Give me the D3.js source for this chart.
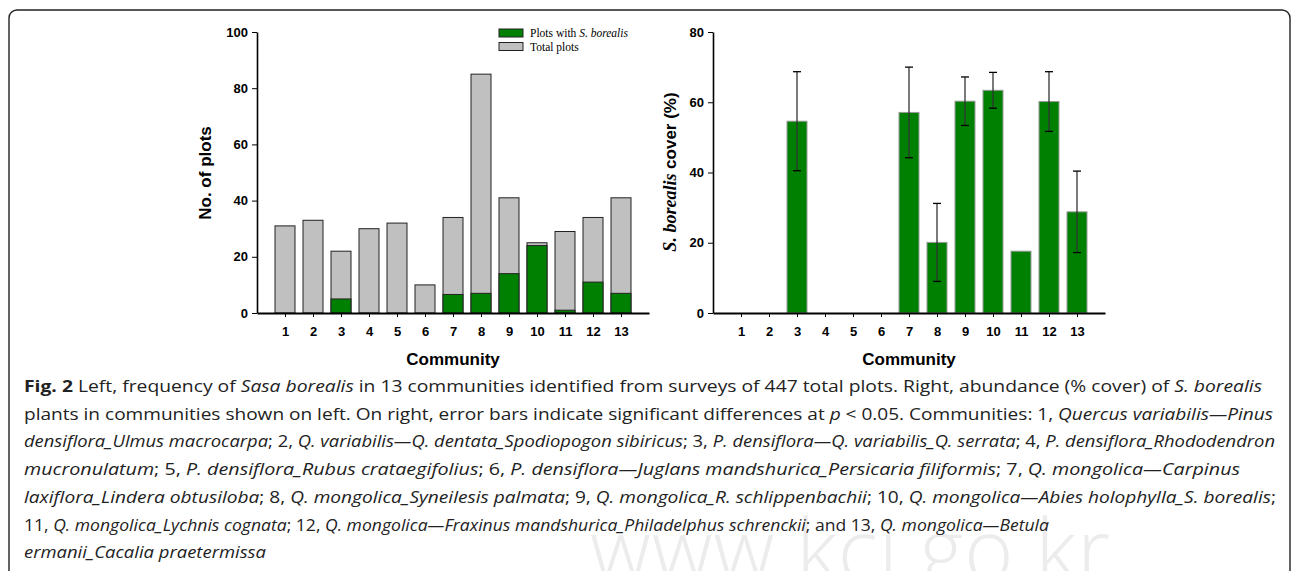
<!DOCTYPE html>
<html lang="en">
<head>
<meta charset="utf-8">
<title>Sasa borealis communities</title>
<script src="https://cdn.jsdelivr.net/npm/d3@7"></script>
<style>
  html, body { margin: 0; padding: 0; background: #fff; }
  svg { display: block; }
  .axis text { font-family: "Liberation Sans", Arial, sans-serif; font-weight: bold; font-size: 13px; fill: #000; }
  .axis path, .axis line { stroke: #000; }
  .title { font-family: "Liberation Sans", Arial, sans-serif; font-weight: bold; font-size: 17px; }
  .legend { font-family: "Liberation Serif", "Times New Roman", serif; font-size: 11.5px; }
  .caption { font-family: "Open Sans", sans-serif; fill: #222; }
</style>
</head>
<body>
<svg id="fig" width="1292" height="571"></svg>
<script>
// data
var communities = [1, 2, 3, 4, 5, 6, 7, 8, 9, 10, 11, 12, 13];
var totalPlots  = [31, 33, 22, 30, 32, 10, 34, 85, 41, 25, 29, 34, 41];
var plotsWithSB = [0, 0, 5, 0, 0, 0, 6.6, 7, 14, 24, 1, 11, 7];
var coverMean   = [0, 0, 54.6, 0, 0, 0, 57.1, 20.1, 60.3, 63.4, 17.6, 60.2, 28.8];
var coverErr    = [0, 0, 14.1, 0, 0, 0, 12.9, 11.1, 6.9, 5.1, 0, 8.5, 11.6];
var leftTicks   = [0, 20, 40, 60, 80, 100];
var rightTicks  = [0, 20, 40, 60, 80];

var captionLines = [
  [["b", "Fig. 2"], ["", " Left, frequency of "], ["i", "Sasa borealis"], ["", " in 13 communities identified from surveys of 447 total plots. Right, abundance (% cover) of "], ["i", "S. borealis"]],
  [["", "plants in communities shown on left. On right, error bars indicate significant differences at "], ["i", "p"], ["", " < 0.05. Communities: 1, "], ["i", "Quercus variabilis\u2014Pinus"]],
  [["i", "densiflora_Ulmus macrocarpa"], ["", "; 2, "], ["i", "Q. variabilis\u2014Q. dentata_Spodiopogon sibiricus"], ["", "; 3, "], ["i", "P. densiflora\u2014Q. variabilis_Q. serrata"], ["", "; 4, "], ["i", "P. densiflora_Rhododendron"]],
  [["i", "mucronulatum"], ["", "; 5, "], ["i", "P. densiflora_Rubus crataegifolius"], ["", "; 6, "], ["i", "P. densiflora\u2014Juglans mandshurica_Persicaria filiformis"], ["", "; 7, "], ["i", "Q. mongolica\u2014Carpinus"]],
  [["i", "laxiflora_Lindera obtusiloba"], ["", "; 8, "], ["i", "Q. mongolica_Syneilesis palmata"], ["", "; 9, "], ["i", "Q. mongolica_R. schlippenbachii"], ["", "; 10, "], ["i", "Q. mongolica\u2014Abies holophylla_S. borealis"], ["", ";"]],
  [["", "11, "], ["i", "Q. mongolica_Lychnis cognata"], ["", "; 12, "], ["i", "Q. mongolica\u2014Fraxinus mandshurica_Philadelphus schrenckii"], ["", "; and 13, "], ["i", "Q. mongolica\u2014Betula"]],
  [["i", "ermanii_Cacalia praetermissa"]]
];
// right edge of each caption line in the original layout
var captionEnds = [1262, 1273, 1275, 1240, 1276, 1049, 266];

var svg = d3.select("#fig");

var GREY = "#c0c0c0", GREEN = "#008000";

// frame
svg.append("rect")
  .attr("x", 9).attr("y", 10)
  .attr("width", 1281).attr("height", 640)
  .attr("rx", 8)
  .attr("fill", "none")
  .attr("stroke", "#222")
  .attr("stroke-width", 1.4);

// watermark
svg.append("text")
  .attr("x", 590).attr("y", 580)
  .style("font-family", "'Open Sans', sans-serif")
  .style("font-weight", 300)
  .style("font-size", "84px")
  .style("letter-spacing", "1px")
  .attr("fill", "#ececec")
  .text("www.kci.go.kr");

// ---------- left chart ----------
var xL = d3.scaleLinear().domain([0, 14]).range([257, 649]);
var yL = d3.scaleLinear().domain([0, 100]).range([313, 32]);
var bw = 20;

var left = svg.append("g");

left.selectAll(".tot")
  .data(communities)
  .enter().append("rect")
  .attr("x", function(d) { return xL(d) - bw / 2; })
  .attr("y", function(d, i) { return yL(totalPlots[i]); })
  .attr("width", bw)
  .attr("height", function(d, i) { return yL(0) - yL(totalPlots[i]); })
  .attr("fill", GREY)
  .attr("stroke", "#222")
  .attr("stroke-width", 1);

left.selectAll(".sb")
  .data(communities.filter(function(d, i) { return plotsWithSB[i] > 0; }))
  .enter().append("rect")
  .attr("x", function(d) { return xL(d) - bw / 2; })
  .attr("y", function(d) { return yL(plotsWithSB[d - 1]); })
  .attr("width", bw)
  .attr("height", function(d) { return yL(0) - yL(plotsWithSB[d - 1]); })
  .attr("fill", GREEN)
  .attr("stroke", "#222")
  .attr("stroke-width", 1);

var axL = left.append("g").attr("class", "axis")
  .attr("transform", "translate(257,0)")
  .call(d3.axisLeft(yL).tickValues(leftTicks).tickSize(5).tickSizeOuter(0).tickPadding(4));
axL.select(".domain").attr("stroke-width", 1.6);

var axLx = left.append("g").attr("class", "axis")
  .attr("transform", "translate(0,313)")
  .call(d3.axisBottom(xL).tickValues(communities).tickSize(4).tickSizeOuter(0).tickPadding(10));
axLx.select(".domain").attr("stroke-width", 2);

left.append("text").attr("class", "title")
  .attr("x", 453).attr("y", 365)
  .attr("text-anchor", "middle")
  .text("Community");

left.append("text").attr("class", "title")
  .attr("transform", "translate(211,173) rotate(-90)")
  .attr("text-anchor", "middle")
  .text("No. of plots");

// legend
var legendItems = [
  { fill: GREEN, parts: [["", "Plots with "], ["i", "S. borealis"]] },
  { fill: GREY, parts: [["", "Total plots"]] }
];
var lg = left.selectAll(".lg")
  .data(legendItems)
  .enter().append("g")
  .attr("transform", function(d, i) { return "translate(499," + (29 + i * 13.5) + ")"; });
lg.append("rect")
  .attr("width", 24).attr("height", 8)
  .attr("fill", function(d) { return d.fill; })
  .attr("stroke", "#222").attr("stroke-width", 1);
lg.append("text").attr("class", "legend")
  .attr("x", 31).attr("y", 8)
  .each(function(d) {
    var t = d3.select(this);
    d.parts.forEach(function(p) {
      t.append("tspan").style("font-style", p[0] === "i" ? "italic" : "normal").text(p[1]);
    });
  });

// ---------- right chart ----------
var xR = d3.scaleLinear().domain([0, 14]).range([713, 1105]);
var yR = d3.scaleLinear().domain([0, 80]).range([313, 32]);

var right = svg.append("g");
var withCover = communities.filter(function(d, i) { return coverMean[i] > 0; });

right.selectAll(".cov")
  .data(withCover)
  .enter().append("rect")
  .attr("x", function(d) { return xR(d) - bw / 2; })
  .attr("y", function(d) { return yR(coverMean[d - 1]); })
  .attr("width", bw)
  .attr("height", function(d) { return yR(0) - yR(coverMean[d - 1]); })
  .attr("fill", GREEN)
  .attr("stroke", "#9a9a9a")
  .attr("stroke-width", 1);

var withErr = withCover.filter(function(d) { return coverErr[d - 1] > 0; });
var eb = right.selectAll(".err").data(withErr).enter().append("g");
eb.append("line")
  .attr("x1", function(d) { return xR(d); })
  .attr("x2", function(d) { return xR(d); })
  .attr("y1", function(d) { return yR(coverMean[d - 1] + coverErr[d - 1]); })
  .attr("y2", function(d) { return yR(coverMean[d - 1] - coverErr[d - 1]); })
  .attr("stroke", "#333").attr("stroke-width", 1.3);
[1, -1].forEach(function(s) {
  eb.append("line")
    .attr("x1", function(d) { return xR(d) - 4; })
    .attr("x2", function(d) { return xR(d) + 4; })
    .attr("y1", function(d) { return yR(coverMean[d - 1] + s * coverErr[d - 1]); })
    .attr("y2", function(d) { return yR(coverMean[d - 1] + s * coverErr[d - 1]); })
    .attr("stroke", "#000").attr("stroke-width", 1.3);
});

var axR = right.append("g").attr("class", "axis")
  .attr("transform", "translate(713,0)")
  .call(d3.axisLeft(yR).tickValues(rightTicks).tickSize(5).tickSizeOuter(0).tickPadding(4));
axR.select(".domain").attr("stroke-width", 1.6);

var axRx = right.append("g").attr("class", "axis")
  .attr("transform", "translate(0,313)")
  .call(d3.axisBottom(xR).tickValues(communities).tickSize(4).tickSizeOuter(0).tickPadding(10));
axRx.select(".domain").attr("stroke-width", 2);

right.append("text").attr("class", "title")
  .attr("x", 909).attr("y", 365)
  .attr("text-anchor", "middle")
  .text("Community");

var yt = right.append("text").attr("class", "title")
  .attr("transform", "translate(676,172) rotate(-90)")
  .attr("text-anchor", "middle");
yt.append("tspan")
  .style("font-family", "'Liberation Serif', 'Times New Roman', serif")
  .style("font-style", "italic")
  .style("font-size", "18px")
  .text("S. borealis");
yt.append("tspan").text(" cover (%)");

// ---------- caption ----------
var cap = svg.append("g").attr("class", "caption");
var capTexts = cap.selectAll("text")
  .data(captionLines)
  .enter().append("text")
  .attr("x", 24)
  .attr("y", function(d, i) { return 392 + i * 27.7; })
  .style("font-size", "16.5px");
capTexts.each(function(line, i) {
  var t = d3.select(this);
  line.forEach(function(p) {
    t.append("tspan")
      .style("font-style", p[0] === "i" ? "italic" : "normal")
      .style("font-weight", p[0] === "b" ? "bold" : "normal")
      .text(p[1]);
  });
  // the original face is narrower than Open Sans: squeeze each line to its width
  t.attr("textLength", captionEnds[i] - 24).attr("lengthAdjust", "spacingAndGlyphs");
});
</script>
</body>
</html>
